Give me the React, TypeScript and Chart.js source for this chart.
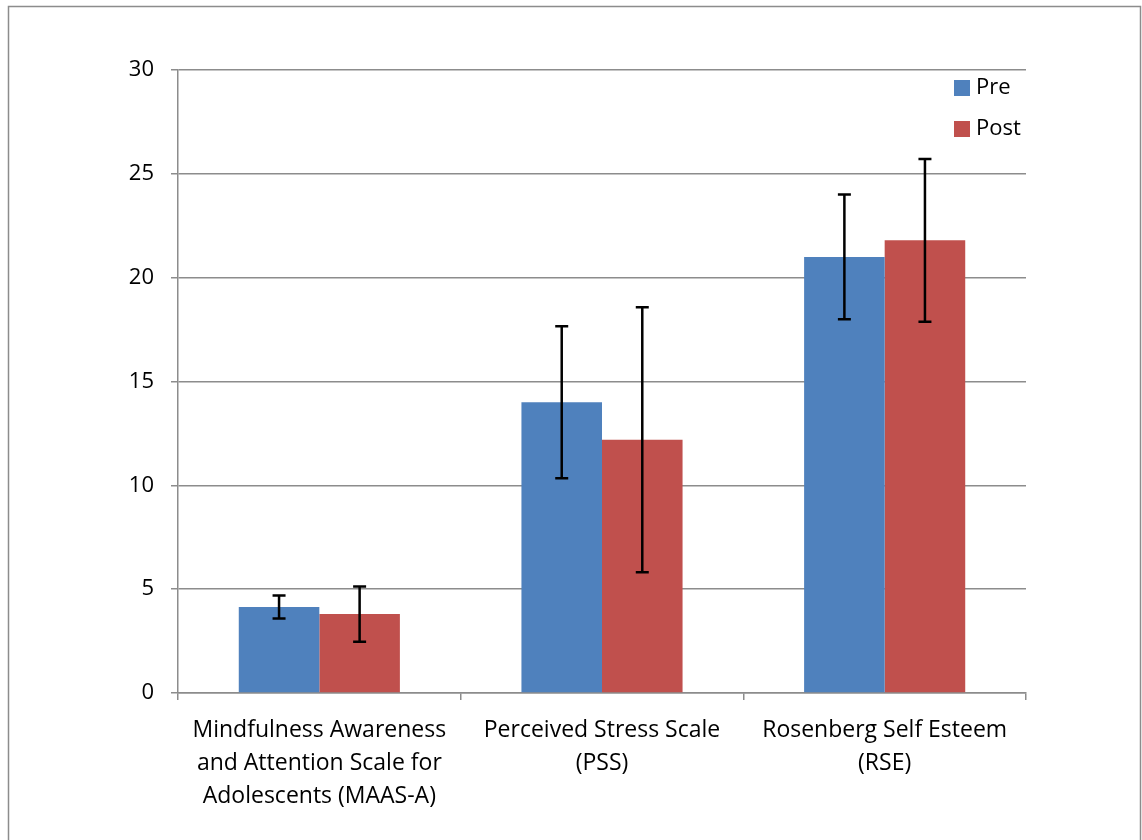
import React, { useEffect, useRef } from "react";
import { Chart, registerables } from "chart.js";

Chart.register(...registerables);

const categories: string[][] = [
  ["Mindfulness Awareness", "and Attention Scale for", "Adolescents (MAAS-A)"],
  ["Perceived Stress Scale", "(PSS)"],
  ["Rosenberg Self Esteem", "(RSE)"],
];
const preValues = [4.14, 14.0, 21.0];
const postValues = [3.8, 12.2, 21.8];
const preErrors = [0.55, 3.66, 3.0];
const postErrors = [1.33, 6.38, 3.92];
const seriesNames = ["Pre", "Post"];
const seriesColors = ["#4F81BD", "#C0504D"];
const yTicks = { min: 0, max: 30, step: 5 };

const FONT = "'Open Sans', sans-serif";
const FS_X = 23;
const FS_Y = 22;

const errorBarPlugin = {
  id: "errorBars",
  afterDatasetsDraw(chart: any) {
    const ctx = chart.ctx;
    const y = chart.scales.y;
    const errs = [preErrors, postErrors];
    ctx.save();
    ctx.strokeStyle = "#000";
    ctx.lineWidth = 2.5;
    chart.data.datasets.forEach((ds: any, di: number) => {
      const meta = chart.getDatasetMeta(di);
      meta.data.forEach((bar: any, i: number) => {
        const v = ds.data[i];
        const e = errs[di][i];
        const top = y.getPixelForValue(v + e);
        const bot = y.getPixelForValue(v - e);
        const x = bar.x;
        ctx.beginPath();
        ctx.moveTo(x, top);
        ctx.lineTo(x, bot);
        ctx.moveTo(x - 6.5, top);
        ctx.lineTo(x + 6.5, top);
        ctx.moveTo(x - 6.5, bot);
        ctx.lineTo(x + 6.5, bot);
        ctx.stroke();
      });
    });
    ctx.restore();
  },
};

const frameLegendPlugin = {
  id: "frameLegend",
  afterDraw(chart: any) {
    const ctx = chart.ctx;
    ctx.save();
    ctx.strokeStyle = "#8c8c8c";
    ctx.lineWidth = 1.5;
    ctx.strokeRect(8.5, 6.5, 1132, 900);
    seriesNames.forEach((name, i) => {
      const ly = 80 + i * 41;
      ctx.fillStyle = seriesColors[i];
      ctx.fillRect(954, ly, 16, 16);
      ctx.fillStyle = "#000";
      ctx.font = `${FS_Y}px ${FONT}`;
      ctx.textBaseline = "middle";
      ctx.textAlign = "left";
      ctx.fillText(name, 976, ly + 8);
    });
    ctx.restore();
  },
};

export default function App() {
  const ref = useRef<HTMLCanvasElement>(null);
  useEffect(() => {
    if (!ref.current) return;
    const chart = new Chart(ref.current, {
      type: "bar",
      data: {
        labels: categories,
        datasets: [
          {
            label: seriesNames[0],
            data: preValues,
            backgroundColor: seriesColors[0],
            categoryPercentage: 0.57,
            barPercentage: 1,
          },
          {
            label: seriesNames[1],
            data: postValues,
            backgroundColor: seriesColors[1],
            categoryPercentage: 0.57,
            barPercentage: 1,
          },
        ],
      },
      options: {
        animation: false,
        responsive: false,
        devicePixelRatio: 1,
        layout: { padding: { top: 70, right: 116, left: 0, bottom: 0 } },
        plugins: {
          legend: { display: false },
          tooltip: { enabled: false },
        },
        scales: {
          x: {
            afterFit: (s: any) => {
              s.height = 147;
            },
            grid: {
              offset: true,
              drawOnChartArea: false,
              drawTicks: true,
              tickLength: 7,
              color: "#8c8c8c",
              lineWidth: 1.5,
            },
            border: { color: "#8c8c8c", width: 1.5 },
            ticks: {
              color: "#000",
              font: { family: FONT, size: FS_X, lineHeight: 1.435 },
              padding: 14,
              maxRotation: 0,
              autoSkip: false,
            },
          },
          y: {
            min: yTicks.min,
            max: yTicks.max,
            afterFit: (s: any) => {
              s.width = 178;
            },
            grid: {
              color: "#8c8c8c",
              lineWidth: 1.5,
              tickLength: 7,
            },
            border: { color: "#8c8c8c", width: 1.5 },
            ticks: {
              stepSize: yTicks.step,
              color: "#000",
              font: { family: FONT, size: FS_Y },
              padding: 17,
            },
          },
        },
      },
      plugins: [errorBarPlugin, frameLegendPlugin],
    });
    return () => chart.destroy();
  }, []);
  return (
    <div style={{ position: "absolute", left: 0, top: 0, width: 1142, height: 840, background: "#fff" }}>
      <canvas ref={ref} width={1142} height={840} style={{ width: 1142, height: 840 }} />
    </div>
  );
}
